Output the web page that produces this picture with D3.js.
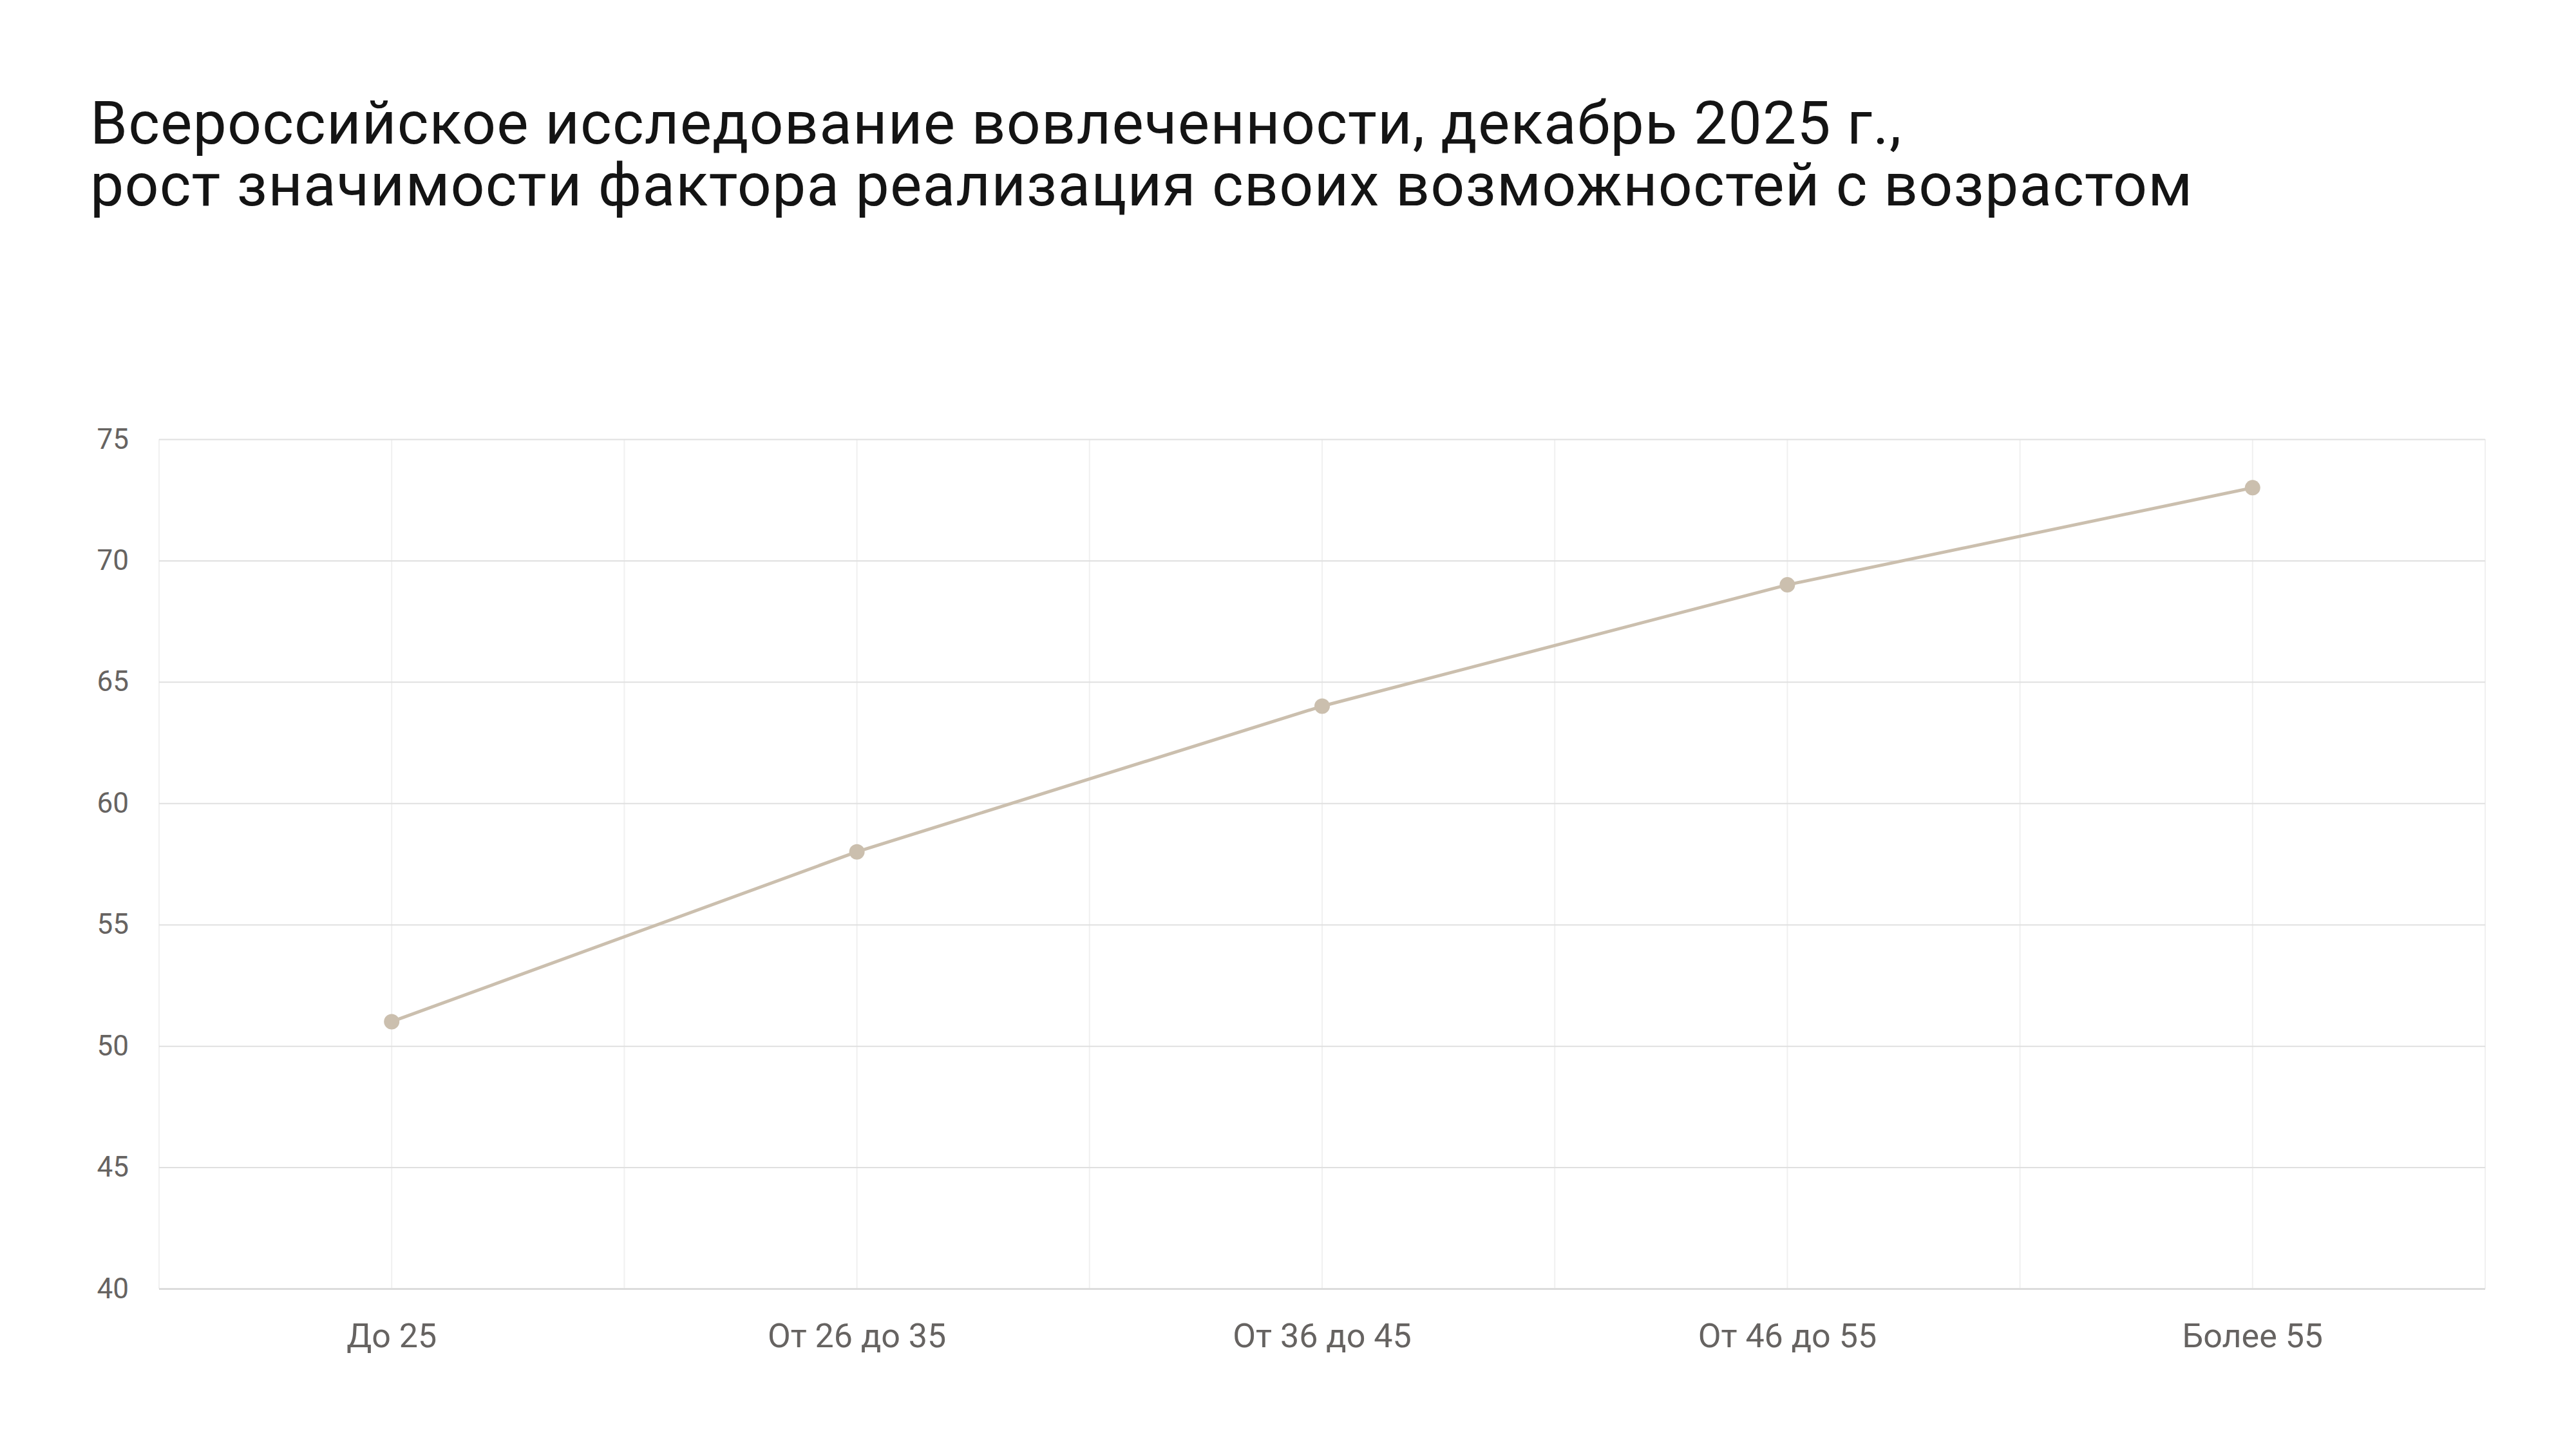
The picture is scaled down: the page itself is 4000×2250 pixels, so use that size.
<!DOCTYPE html>
<html>
<head>
<meta charset="utf-8">
<script src="https://cdn.jsdelivr.net/npm/d3@7"></script>
<style>
  html, body { margin: 0; padding: 0; background: #fff; }
  svg { display: block; font-family: Roboto, "Noto Sans", sans-serif; }
</style>
</head>
<body>
<div id="chart"></div>
<script>
// Data
const titleLines = [
    "Всероссийское исследование вовлеченности, декабрь 2025 г.,",
    "рост значимости фактора реализация своих возможностей с возрастом"
];
const categories = ["До 25", "От 26 до 35", "От 36 до 45", "От 46 до 55", "Более 55"];
const values = [51, 58, 64, 69, 73];
const yTicks = [40, 45, 50, 55, 60, 65, 70, 75];

// Layout
const width = 4000, height = 2250;
const plot = { left: 247, right: 3859, top: 682, bottom: 2001 };

const svg = d3.select("#chart").append("svg")
    .attr("width", width)
    .attr("height", height);

// Title
svg.append("g").selectAll("text")
    .data(titleLines)
    .join("text")
    .attr("x", 140)
    .attr("y", (d, i) => 223 + i * 96)
    .attr("font-size", 93)
    .attr("letter-spacing", 1.2)
    .attr("fill", "#141414")
    .text(d => d);

// Scales
const x = d3.scaleBand()
    .domain(categories)
    .range([plot.left, plot.right])
    .paddingInner(0)
    .paddingOuter(0);

const y = d3.scaleLinear()
    .domain([40, 75])
    .range([plot.bottom, plot.top]);

const cx = d => x(d) + x.bandwidth() / 2;

// Vertical grid: band edges and band centres
const vLines = [];
categories.forEach(c => { vLines.push(x(c)); vLines.push(cx(c)); });
vLines.push(plot.right);

svg.append("g").selectAll("line")
    .data(vLines)
    .join("line")
    .attr("x1", d => d).attr("x2", d => d)
    .attr("y1", plot.top).attr("y2", plot.bottom)
    .attr("stroke", "#f0f0f0")
    .attr("stroke-width", 2);

// Y axis with horizontal gridlines
const yAxis = svg.append("g")
    .attr("transform", `translate(${plot.left},0)`)
    .call(d3.axisLeft(y)
        .tickValues(yTicks)
        .tickSize(-(plot.right - plot.left))
        .tickPadding(47));

yAxis.select(".domain").remove();
yAxis.selectAll(".tick line")
    .attr("stroke", d => d === 40 ? "#dcdcdc" : "#e0e0e0")
    .attr("stroke-width", d => d === 40 ? 3 : 2);
yAxis.selectAll(".tick text")
    .attr("font-size", 44)
    .attr("fill", "#666361")
    .attr("font-family", "Roboto, 'Noto Sans', sans-serif");

// X axis labels
const xAxis = svg.append("g")
    .attr("transform", `translate(0,${plot.bottom})`)
    .call(d3.axisBottom(x).tickSize(0).tickPadding(54));

xAxis.select(".domain").remove();
xAxis.selectAll(".tick text")
    .attr("font-size", 52)
    .attr("fill", "#666361")
    .attr("font-family", "Roboto, 'Noto Sans', sans-serif");

// Line
const points = categories.map((c, i) => ({ c, v: values[i] }));

svg.append("path")
    .datum(points)
    .attr("fill", "none")
    .attr("stroke", "#cbbfae")
    .attr("stroke-width", 5)
    .attr("stroke-linejoin", "round")
    .attr("d", d3.line().x(d => cx(d.c)).y(d => y(d.v)));

svg.append("g").selectAll("circle")
    .data(points)
    .join("circle")
    .attr("cx", d => cx(d.c))
    .attr("cy", d => y(d.v))
    .attr("r", 12)
    .attr("fill", "#cbbfae");
</script>
</body>
</html>
